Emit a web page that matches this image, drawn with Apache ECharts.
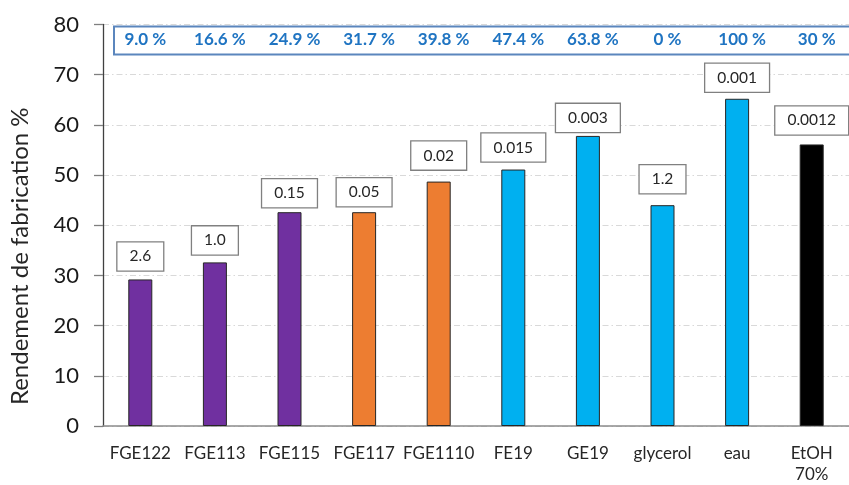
<!DOCTYPE html>
<html>
<head>
<meta charset="utf-8">
<script src="https://cdn.jsdelivr.net/npm/echarts@6/dist/echarts.min.js"></script>
<style>
  html, body { margin: 0; padding: 0; background: #fff; }
  #chart { width: 849px; height: 485px; }
</style>
</head>
<body>
<div id="chart"></div>
<script>
// Samples and their fabrication yield (%)
const categories = ['FGE122', 'FGE113', 'FGE115', 'FGE117', 'FGE1110', 'FE19', 'GE19', 'glycerol', 'eau', 'EtOH\n70%'];
const yieldValues = [29.2, 32.6, 42.6, 42.6, 48.7, 51.1, 57.8, 44.0, 65.2, 56.1];
// Value shown in the boxed label above each bar
const boxLabels = ['2.6', '1.0', '0.15', '0.05', '0.02', '0.015', '0.003', '1.2', '0.001', '0.0012'];
// Percentages listed in the top banner, one per sample
const percentLabels = ['9.0 %', '16.6 %', '24.9 %', '31.7 %', '39.8 %', '47.4 %', '63.8 %', '0 %', '100 %', '30 %'];
// Bar colour group per sample
const groups = ['violet', 'violet', 'violet', 'orange', 'orange', 'bleu', 'bleu', 'bleu', 'bleu', 'noir'];
const yTicks = [0, 10, 20, 30, 40, 50, 60, 70, 80];

// Styling
const groupColors = { violet: '#7030A0', orange: '#ED7D31', bleu: '#00B0F0', noir: '#000000' };
const labelGap = [9, 8, 5, 6, 12, 8, 4, 12, 7, 10];
const FONT = 'Lato, "Open Sans", sans-serif';

const chart = echarts.init(document.getElementById('chart'), null, { renderer: 'canvas' });

const barData = yieldValues.map((v, i) => ({
  value: v,
  itemStyle: { color: groupColors[groups[i]] },
  label: { distance: labelGap[i] }
}));

chart.setOption({
  animation: false,
  backgroundColor: '#ffffff',
  grid: { left: 100, right: 0, top: 24.5, bottom: 56.5, containLabel: false },
  xAxis: [
    {
      type: 'category',
      data: categories,
      axisLine: { show: true, lineStyle: { color: '#8c8c8c', width: 1.6 } },
      axisTick: { show: false },
      axisLabel: { color: '#262626', fontFamily: FONT, fontSize: 17, margin: 17, lineHeight: 21, interval: 0 }
    },
    {
      type: 'category',
      data: percentLabels,
      position: 'top',
      axisLine: { show: false },
      axisTick: { show: false },
      axisLabel: {
        inside: true, margin: 7, interval: 0,
        color: '#1F74C2', fontFamily: FONT, fontSize: 17, fontWeight: 'bold',
        padding: [0, 0, 0, 10]
      }
    }
  ],
  yAxis: {
    type: 'value',
    min: yTicks[0],
    max: yTicks[yTicks.length - 1],
    interval: yTicks[1] - yTicks[0],
    name: 'Rendement de fabrication %',
    nameLocation: 'middle',
    nameGap: 71,
    nameTextStyle: { color: '#262626', fontFamily: FONT, fontSize: 24, padding: [0, 62, 0, 0] },
    axisLine: { show: true, lineStyle: { color: '#404040', width: 1.3 } },
    axisTick: { show: true, length: 9, lineStyle: { color: '#7f7f7f', width: 1.3 } },
    axisLabel: { color: '#1a1a1a', fontFamily: FONT, fontSize: 22, margin: 24 },
    splitLine: { show: true, lineStyle: { color: '#d9d9d9', width: 1, type: [6, 3, 1.5, 3] } }
  },
  series: [
    {
      type: 'bar',
      xAxisIndex: 0,
      data: barData,
      barWidth: 24,
      itemStyle: { borderColor: '#262626', borderWidth: 1 },
      label: {
        show: true,
        position: 'top',
        formatter: p => boxLabels[p.dataIndex],
        color: '#262626',
        fontFamily: FONT,
        fontSize: 15.5,
        backgroundColor: '#ffffff',
        borderColor: '#808080',
        borderWidth: 1.3,
        padding: [6, 12, 6, 12]
      }
    }
  ],
  graphic: [
    {
      type: 'rect',
      left: 111.5,
      top: 24,
      shape: { width: 736, height: 28 },
      style: { fill: 'none', stroke: '#5B86BD', lineWidth: 2 },
      z: 10
    }
  ]
});
</script>
</body>
</html>
